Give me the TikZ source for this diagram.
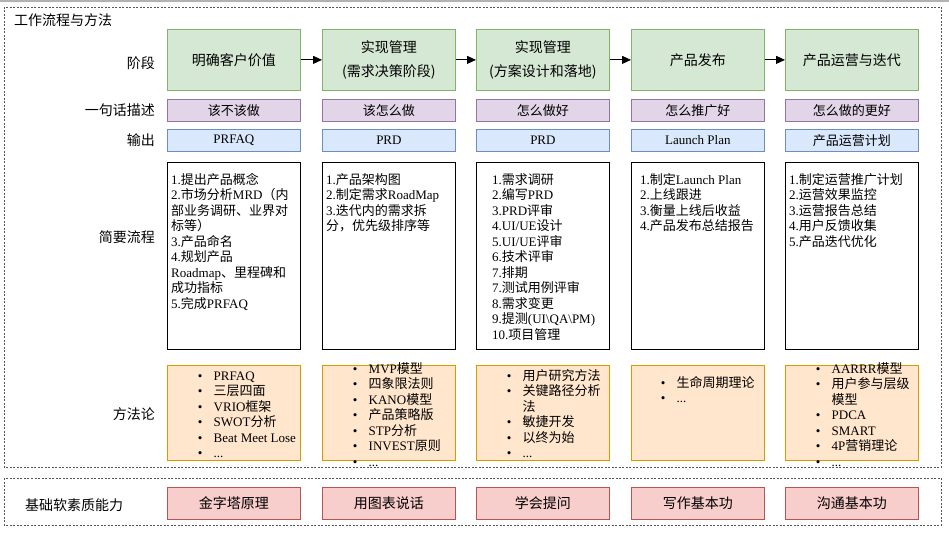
\documentclass[tikz,border=0pt]{standalone}
\usepackage{fontspec}
\setmainfont{Liberation Serif}
\newfontfamily\cjk{Noto Sans CJK SC}
\usetikzlibrary{arrows.meta}
\definecolor{gfill}{HTML}{D5E8D4}\definecolor{gline}{HTML}{82B366}
\definecolor{pfill}{HTML}{E1D5E7}\definecolor{pline}{HTML}{9673A6}
\definecolor{bfill}{HTML}{DAE8FC}\definecolor{bline}{HTML}{6C8EBF}
\definecolor{ofill}{HTML}{FFE6CC}\definecolor{oline}{HTML}{D79B00}
\definecolor{rfill}{HTML}{F8CECC}\definecolor{rline}{HTML}{B85450}
\definecolor{framec}{HTML}{555555}
% automatic switch to the CJK font for CJK characters
\newXeTeXintercharclass\cjkcls
\newcount\cjkcc
\cjkcc="4E00 \loop \XeTeXcharclass\cjkcc=\cjkcls \advance\cjkcc 1 \ifnum\cjkcc<"A000 \repeat
\cjkcc="3000 \loop \XeTeXcharclass\cjkcc=\cjkcls \advance\cjkcc 1 \ifnum\cjkcc<"3040 \repeat
\cjkcc="FF00 \loop \XeTeXcharclass\cjkcc=\cjkcls \advance\cjkcc 1 \ifnum\cjkcc<"FFF0 \repeat
\XeTeXinterchartoks 0 \cjkcls = {\cjk}
\XeTeXinterchartoks 4095 \cjkcls = {\cjk}
\XeTeXinterchartoks \cjkcls 0 = {\rmfamily}
\XeTeXinterchartokenstate=1
\newcommand\cjkonly[1]{{\XeTeXinterchartokenstate=0 \cjk #1}}
\newcommand\prl[1]{\hbox{\vrule height 10.5pt depth 5pt width 0pt\smash{#1}}}
\newcommand\prstack[1]{\vtop{\offinterlineskip #1}}
\newcommand\mbul[1]{\prl{\makebox[15.8pt][l]{\textbullet}#1}}
\newcommand\mcont[1]{\prl{\hspace*{15.8pt}#1}}
\begin{document}
\begin{tikzpicture}[x=1pt,y=-1pt,
  frame/.style={draw=framec, dash pattern=on 2pt off 1.5pt, line width=0.9pt},
  box/.style={rectangle, anchor=north west, inner sep=0pt, minimum width=133pt, line width=0.8pt},
  stagebox/.style={box, draw=gline, fill=gfill, minimum height=61pt, align=center, font=\fontsize{14}{24}\selectfont},
  descbox/.style={box, draw=pline, fill=pfill, minimum height=22pt, font=\fontsize{13}{15}\selectfont},
  outbox/.style={box, draw=bline, fill=bfill, minimum height=22pt, font=\fontsize{13}{15}\selectfont},
  procbox/.style={box, draw=black, fill=white, minimum height=187pt},
  methbox/.style={box, draw=oline, fill=ofill, minimum height=95pt},
  skillbox/.style={box, draw=rline, fill=rfill, minimum height=32pt, font=\fontsize{14}{16}\selectfont},
  rowlabel/.style={anchor=east, inner sep=0pt, font=\fontsize{14}{16}\selectfont},
  listtext/.style={anchor=base west, inner sep=0pt, font=\fontsize{13}{15.5}\selectfont},
  flow/.style={-{Triangle[length=9pt,width=8pt]}, line width=0.9pt, black}]
\useasboundingbox (0,0) rectangle (949,532);
\fill[white] (0,0) rectangle (949,532);
\draw[gray!60, line width=1.5pt] (0,0.8) -- (949,0.8);
% frames
\draw[frame] (4,7) rectangle (941,467);
\draw[frame] (4,478) rectangle (941,525);
\node[anchor=west, inner sep=0pt, font=\fontsize{14}{16}\selectfont] (title) at (14,20) {工作流程与方法};
% row labels
\node[rowlabel] (lstage) at (155,63) {阶段};
\node[rowlabel] (ldesc) at (155,110) {一句话描述};
\node[rowlabel] (lout) at (155,140) {输出};
\node[rowlabel] (lproc) at (155,237) {简要流程};
\node[rowlabel] (lmeth) at (155,414) {方法论};
% stages
\node[stagebox] (s1) at (167,29) {明确客户价值};
\node[stagebox] (s2) at (322,29) {实现管理\\\cjkonly{(需求决策阶段)}};
\node[stagebox] (s3) at (476,29) {实现管理\\\cjkonly{(方案设计和落地)}};
\node[stagebox] (s4) at (631,29) {产品发布};
\node[stagebox] (s5) at (785,29) {产品运营与迭代};
\draw[flow] (s1.east) -- (s2.west);
\draw[flow] (s2.east) -- (s3.west);
\draw[flow] (s3.east) -- (s4.west);
\draw[flow] (s4.east) -- (s5.west);
% descriptions
\node[descbox] (d1) at (167,99) {该不该做};
\node[descbox] (d2) at (322,99) {该怎么做};
\node[descbox] (d3) at (476,99) {怎么做好};
\node[descbox] (d4) at (631,99) {怎么推广好};
\node[descbox] (d5) at (785,99) {怎么做的更好};
% outputs
\node[outbox] (o1) at (167,129) {PRFAQ};
\node[outbox] (o2) at (322,129) {PRD};
\node[outbox] (o3) at (476,129) {PRD};
\node[outbox] (o4) at (631,129) {Launch Plan};
\node[outbox] (o5) at (785,129) {产品运营计划};
% process boxes
\node[procbox] (p1) at (167,162) {};
\node[procbox] (p2) at (322,162) {};
\node[procbox] (p3) at (476,162) {};
\node[procbox] (p4) at (631,162) {};
\node[procbox] (p5) at (785,162) {};
\node[listtext] (p1t) at (171,184) {\prstack{\prl{1.提出产品概念}\prl{2.市场分析MRD（内}\prl{部业务调研、业界对}\prl{标等）}\prl{3.产品命名}\prl{4.规划产品}\prl{Roadmap、里程碑和}\prl{成功指标}\prl{5.完成PRFAQ}}};
\node[listtext] (p2t) at (326,184) {\prstack{\prl{1.产品架构图}\prl{2.制定需求RoadMap}\prl{3.迭代内的需求拆}\prl{分，优先级排序等}}};
\node[listtext] (p3t) at (492,184) {\prstack{\prl{1.需求调研}\prl{2.编写PRD}\prl{3.PRD评审}\prl{4.UI/UE设计}\prl{5.UI/UE评审}\prl{6.技术评审}\prl{7.排期}\prl{7.测试用例评审}\prl{8.需求变更}\prl{9.提测(UI\textbackslash QA\textbackslash PM)}\prl{10.项目管理}}};
\node[listtext] (p4t) at (640,184) {\prstack{\prl{1.制定Launch Plan}\prl{2.上线跟进}\prl{3.衡量上线后收益}\prl{4.产品发布总结报告}}};
\node[listtext] (p5t) at (789,184) {\prstack{\prl{1.制定运营推广计划}\prl{2.运营效果监控}\prl{3.运营报告总结}\prl{4.用户反馈收集}\prl{5.产品迭代优化}}};
% methods
\node[methbox] (m1) at (167,365) {};
\node[methbox] (m2) at (322,365) {};
\node[methbox] (m3) at (476,365) {};
\node[methbox] (m4) at (631,365) {};
\node[methbox] (m5) at (785,365) {};
\node[listtext] (m1t) at (197.7,380) {\prstack{\mbul{PRFAQ}\mbul{三层四面}\mbul{VRIO框架}\mbul{SWOT分析}\mbul{Beat Meet Lose}\mbul{...}}};
\node[listtext] (m2t) at (352.7,373) {\prstack{\mbul{MVP模型}\mbul{四象限法则}\mbul{KANO模型}\mbul{产品策略版}\mbul{STP分析}\mbul{INVEST原则}\mbul{...}}};
\node[listtext] (m3t) at (506.7,380) {\prstack{\mbul{用户研究方法}\mbul{关键路径分析}\mcont{法}\mbul{敏捷开发}\mbul{以终为始}\mbul{...}}};
\node[listtext] (m4t) at (660.7,387) {\prstack{\mbul{生命周期理论}\mbul{...}}};
\node[listtext] (m5t) at (815.7,373) {\prstack{\mbul{AARRR模型}\mbul{用户参与层级}\mcont{模型}\mbul{PDCA}\mbul{SMART}\mbul{4P营销理论}\mbul{...}}};
% soft skills
\node[anchor=west, inner sep=0pt, font=\fontsize{14}{16}\selectfont] (lskill) at (25,505) {基础软素质能力};
\node[skillbox] (k1) at (167,487) {金字塔原理};
\node[skillbox] (k2) at (322,487) {用图表说话};
\node[skillbox] (k3) at (476,487) {学会提问};
\node[skillbox] (k4) at (631,487) {写作基本功};
\node[skillbox] (k5) at (785,487) {沟通基本功};
\end{tikzpicture}
\end{document}
